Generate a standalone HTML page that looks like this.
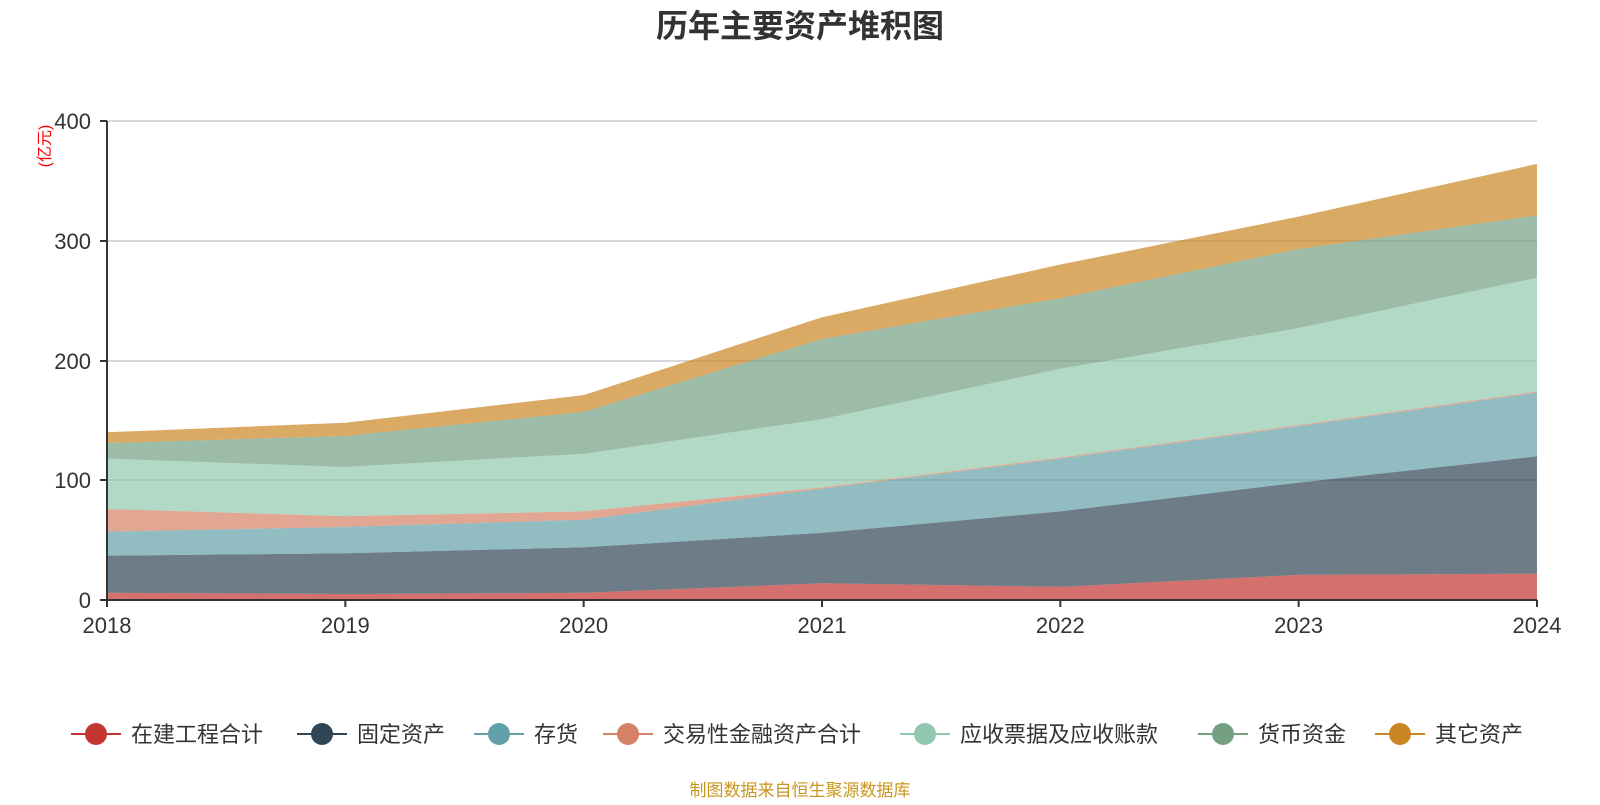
<!DOCTYPE html>
<html><head><meta charset="utf-8"><style>body{margin:0;background:#fff}svg text{font-family:"Liberation Sans","Noto Sans CJK SC",sans-serif}</style></head><body>
<svg width="1600" height="800" xmlns="http://www.w3.org/2000/svg">
<text x="800" y="37" text-anchor="middle" font-size="32" font-weight="bold" fill="#333">历年主要资产堆积图</text>
<g stroke="#ccc" stroke-width="1.5">
<line x1="107" y1="121" x2="1537" y2="121"/><line x1="107" y1="241" x2="1537" y2="241"/><line x1="107" y1="361" x2="1537" y2="361"/><line x1="107" y1="480" x2="1537" y2="480"/></g>
<g id="areas" fill-opacity="0.7"></g>
<g stroke="#333" stroke-width="2"><line x1="107" y1="121" x2="107" y2="601"/><line x1="100" y1="121" x2="107" y2="121"/><line x1="100" y1="241" x2="107" y2="241"/><line x1="100" y1="361" x2="107" y2="361"/><line x1="100" y1="480" x2="107" y2="480"/><line x1="100" y1="600" x2="1537" y2="600"/></g>
<g font-size="22" fill="#333" text-anchor="end"><text x="91" y="129">400</text><text x="91" y="249">300</text><text x="91" y="369">200</text><text x="91" y="488">100</text><text x="91" y="608">0</text></g>
<text transform="translate(50,146) rotate(-90)" font-size="16" fill="red" text-anchor="middle">(亿元)</text>
<g font-size="22" fill="#333" text-anchor="middle" id="xl"></g>
<g font-size="22" fill="#333" id="lg"></g>
<text x="800" y="796" text-anchor="middle" font-size="17" fill="#c8961e">制图数据来自恒生聚源数据库</text>
</svg>
<script>
var ns="http://www.w3.org/2000/svg";
var X=i=>107+i*238.33, Y=v=>600-v*1.198;
var cum=[[6,5,6,14,11,21,22],[37,39,44,56,74,98,120],[57,61,67,93,118,145,173],[76,70,74,94,119,146,174],[118,111,122,151,193,227,269],[131,137,157,218,252,293,321],[140,148,171,236,280,320,364]];
var col=["#c23531","#2f4554","#61a0a8","#d48265","#91c7ae","#749f83","#ca8622"];
var g=document.getElementById("areas");
cum.forEach((c,k)=>{var lo=k?cum[k-1]:[0,0,0,0,0,0,0];var d="M";for(var i=0;i<7;i++)d+=X(i)+","+Y(c[i])+" L";for(var i=6;i>=0;i--)d+=X(i)+","+Y(lo[i])+(i?" L":"Z");var p=document.createElementNS(ns,"path");p.setAttribute("d",d);p.setAttribute("fill",col[k]);g.appendChild(p);});
var xl=document.getElementById("xl");
for(var i=0;i<7;i++){var t=document.createElementNS(ns,"text");t.setAttribute("x",X(i));t.setAttribute("y",633);t.textContent=2018+i;xl.appendChild(t);
var l=document.createElementNS(ns,"line");l.setAttribute("x1",X(i));l.setAttribute("x2",X(i));l.setAttribute("y1",600);l.setAttribute("y2",607);l.setAttribute("stroke","#333");l.setAttribute("stroke-width",2);xl.appendChild(l);}
var names=["在建工程合计","固定资产","存货","交易性金融资产合计","应收票据及应收账款","货币资金","其它资产"];
var xs=[71,297,474,603,900,1198,1375];
var lg=document.getElementById("lg");
names.forEach((n,k)=>{var x=xs[k];lg.innerHTML+='<line x1="'+x+'" x2="'+(x+50)+'" y1="734" y2="734" stroke="'+col[k]+'" stroke-width="2"/><circle cx="'+(x+25)+'" cy="734" r="11" fill="'+col[k]+'"/><text x="'+(x+60)+'" y="742">'+n+'</text>';});
</script>
</body></html>
